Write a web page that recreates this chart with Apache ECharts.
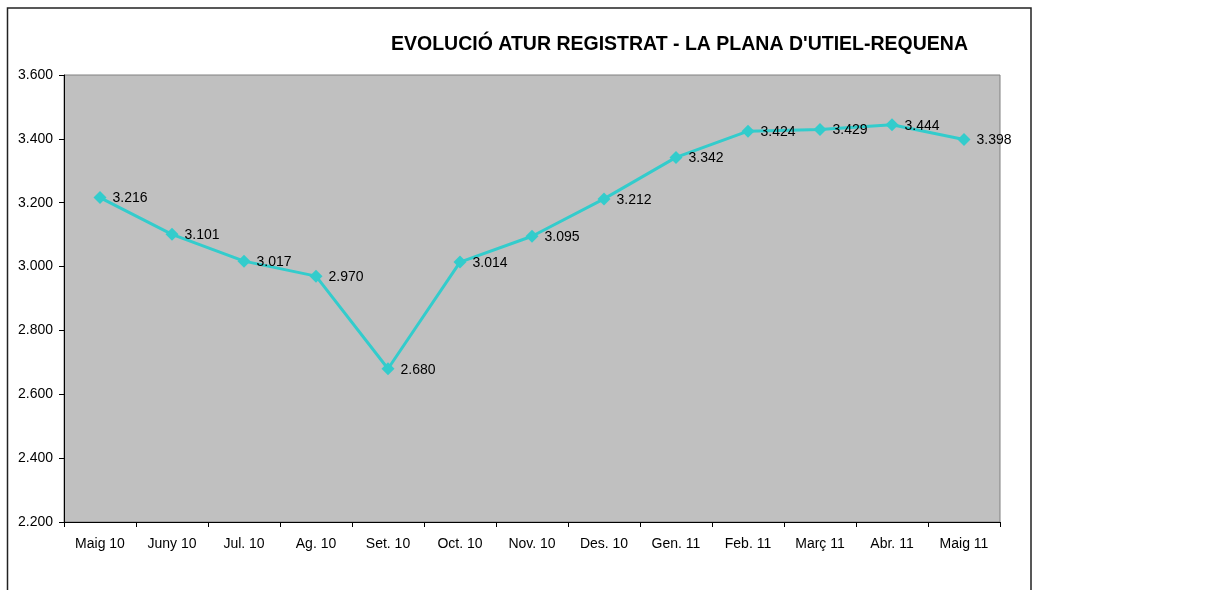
<!DOCTYPE html>
<html><head><meta charset="utf-8">
<script src="https://cdn.jsdelivr.net/npm/echarts@6/dist/echarts.min.js"></script>
<style>html,body{margin:0;padding:0;background:#fff}#c{width:1217px;height:590px}</style>
</head><body><div id="c"></div>
<script>
const titleText = "EVOLUCIÓ ATUR REGISTRAT - LA PLANA D'UTIEL-REQUENA";
const categories = ['Maig 10','Juny 10','Jul. 10','Ag. 10','Set. 10','Oct. 10','Nov. 10','Des. 10','Gen. 11','Feb. 11','Març 11','Abr. 11','Maig 11'];
const values = [3216, 3101, 3017, 2970, 2680, 3014, 3095, 3212, 3342, 3424, 3429, 3444, 3398];
const yMin = 2200, yMax = 3600, yStep = 200;

function fmt(v){ const s = String(Math.round(v)); return s.length > 3 ? s.slice(0, s.length-3) + '.' + s.slice(-3) : s; }

const chart = echarts.init(document.getElementById('c'), null, {renderer:'canvas'});
const font = 'Arial, "Liberation Sans", sans-serif';
chart.setOption({
  backgroundColor: '#ffffff',
  animation: false,
  graphic: [
    {type:'rect', z:-10, shape:{x:7.5, y:8, width:1023.5, height:600}, style:{fill:'none', stroke:'#222', lineWidth:1.5}},
    {type:'text', left:391, top:35, style:{text:titleText, font:'bold 19.5px ' + font, fill:'#000'}}
  ],
  grid: {left:64, right:217, top:75, bottom:68, show:true, backgroundColor:'#C0C0C0', borderColor:'#808080', borderWidth:1},
  xAxis: {
    type:'category', data: categories, boundaryGap:true,
    axisLine:{lineStyle:{color:'#000', width:1}},
    axisTick:{show:true, interval:0, length:5, lineStyle:{color:'#000'}},
    axisLabel:{color:'#000', fontSize:14, fontFamily:font, margin:15, interval:0}
  },
  yAxis: {
    type:'value', min:yMin, max:yMax, interval:yStep,
    axisLine:{show:true, lineStyle:{color:'#000', width:1}},
    axisTick:{show:true, length:5, lineStyle:{color:'#000'}},
    splitLine:{show:false},
    axisLabel:{color:'#000', fontSize:14, fontFamily:font, margin:11, formatter: v => fmt(v)}
  },
  series: [{
    type:'line', data: values,
    lineStyle:{color:'#33CCCC', width:3},
    itemStyle:{color:'#33CCCC'},
    symbol:'path://M0,-1L1,0L0,1L-1,0Z', symbolSize:13, showAllSymbol:true,
    label:{show:true, position:'right', distance:6, offset:[0,1], color:'#000', fontSize:14, fontFamily:font, formatter: p => fmt(p.value)}
  }]
});
</script></body></html>
